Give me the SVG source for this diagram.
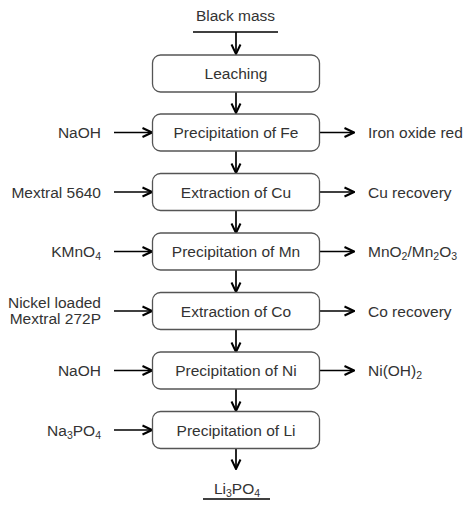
<svg xmlns="http://www.w3.org/2000/svg" width="465" height="506" viewBox="0 0 465 506">
<defs>
<marker id="ah" viewBox="0 0 12 12" refX="11" refY="6" markerWidth="12" markerHeight="12" markerUnits="userSpaceOnUse" orient="auto">
<path d="M1.5,1.5 L11,6 L1.5,10.5" fill="none" stroke="#000" stroke-width="2"/>
</marker>
<style>
text{font-family:"Liberation Sans",Arial,sans-serif;font-size:15.5px;fill:#333}
.c{text-anchor:middle}
.e{text-anchor:end}
.box{fill:#fff;stroke:#555;stroke-width:1.3}
.ln{stroke:#000;stroke-width:1.7;fill:none}
.ar{stroke:#000;stroke-width:1.7;fill:none;marker-end:url(#ah)}
.sub{font-size:10.5px}
</style>
</defs>
<rect width="465" height="506" fill="#fff"/>
<g id="connectors">
<line class="ln" x1="193" y1="32" x2="278" y2="32"/>
<line class="ar" x1="236" y1="32" x2="236" y2="54"/>
<line class="ar" x1="236" y1="92" x2="236" y2="113"/>
<line class="ar" x1="236" y1="151" x2="236" y2="173"/>
<line class="ar" x1="236" y1="211" x2="236" y2="233"/>
<line class="ar" x1="236" y1="270" x2="236" y2="292"/>
<line class="ar" x1="236" y1="330" x2="236" y2="352"/>
<line class="ar" x1="236" y1="389" x2="236" y2="411"/>
<line class="ar" x1="236" y1="449" x2="236" y2="469"/>
<line class="ln" x1="203" y1="499" x2="270" y2="499"/>
<line class="ar" x1="114" y1="132.5" x2="152" y2="132.5"/>
<line class="ar" x1="114" y1="192" x2="152" y2="192"/>
<line class="ar" x1="114" y1="251.5" x2="152" y2="251.5"/>
<line class="ar" x1="114" y1="311" x2="152" y2="311"/>
<line class="ar" x1="114" y1="370.5" x2="152" y2="370.5"/>
<line class="ar" x1="114" y1="430" x2="152" y2="430"/>
<line class="ar" x1="319.5" y1="132.5" x2="354" y2="132.5"/>
<line class="ar" x1="319.5" y1="192" x2="354" y2="192"/>
<line class="ar" x1="319.5" y1="251.5" x2="354" y2="251.5"/>
<line class="ar" x1="319.5" y1="311" x2="354" y2="311"/>
<line class="ar" x1="319.5" y1="370.5" x2="354" y2="370.5"/>
</g>
<g id="black-mass"><text class="c" x="235.5" y="20.5">Black mass</text></g>
<g id="leaching"><rect class="box" x="152.5" y="55" width="167" height="37" rx="8"/><text class="c" x="236" y="79">Leaching</text></g>
<g id="fe"><rect class="box" x="152.5" y="114" width="167" height="37" rx="8"/><text class="c" x="236" y="138">Precipitation of Fe</text></g>
<g id="cu"><rect class="box" x="152.5" y="173.5" width="167" height="37" rx="8"/><text class="c" x="236" y="197.5">Extraction of Cu</text></g>
<g id="mn"><rect class="box" x="152.5" y="233" width="167" height="37" rx="8"/><text class="c" x="236" y="257">Precipitation of Mn</text></g>
<g id="co"><rect class="box" x="152.5" y="292.5" width="167" height="37" rx="8"/><text class="c" x="236" y="316.5">Extraction of Co</text></g>
<g id="ni"><rect class="box" x="152.5" y="352" width="167" height="37" rx="8"/><text class="c" x="236" y="376">Precipitation of Ni</text></g>
<g id="li"><rect class="box" x="152.5" y="411.5" width="167" height="37" rx="8"/><text class="c" x="236" y="435.5">Precipitation of Li</text></g>
<g id="li3po4"><text class="c" x="237" y="494">Li<tspan class="sub" dy="3">3</tspan><tspan dy="-3">PO</tspan><tspan class="sub" dy="3">4</tspan></text></g>
<g id="in-naoh-1"><text class="e" x="101" y="138">NaOH</text></g>
<g id="in-mextral-5640"><text class="e" x="101" y="197.5">Mextral 5640</text></g>
<g id="in-kmno4"><text class="e" x="101" y="257">KMnO<tspan class="sub" dy="3">4</tspan></text></g>
<g id="in-nickel-loaded"><text class="e" x="101" y="307.5">Nickel loaded</text><text class="e" x="101" y="323.5">Mextral 272P</text></g>
<g id="in-naoh-2"><text class="e" x="101" y="376">NaOH</text></g>
<g id="in-na3po4"><text class="e" x="101" y="435.5">Na<tspan class="sub" dy="3">3</tspan><tspan dy="-3">PO</tspan><tspan class="sub" dy="3">4</tspan></text></g>
<g id="out-iron-oxide"><text x="368" y="138">Iron oxide red</text></g>
<g id="out-cu"><text x="368" y="197.5">Cu recovery</text></g>
<g id="out-mn"><text x="368" y="257">MnO<tspan class="sub" dy="3">2</tspan><tspan dy="-3">/Mn</tspan><tspan class="sub" dy="3">2</tspan><tspan dy="-3">O</tspan><tspan class="sub" dy="3">3</tspan></text></g>
<g id="out-co"><text x="368" y="316.5">Co recovery</text></g>
<g id="out-ni"><text x="368" y="376">Ni(OH)<tspan class="sub" dy="3">2</tspan></text></g>
</svg>
